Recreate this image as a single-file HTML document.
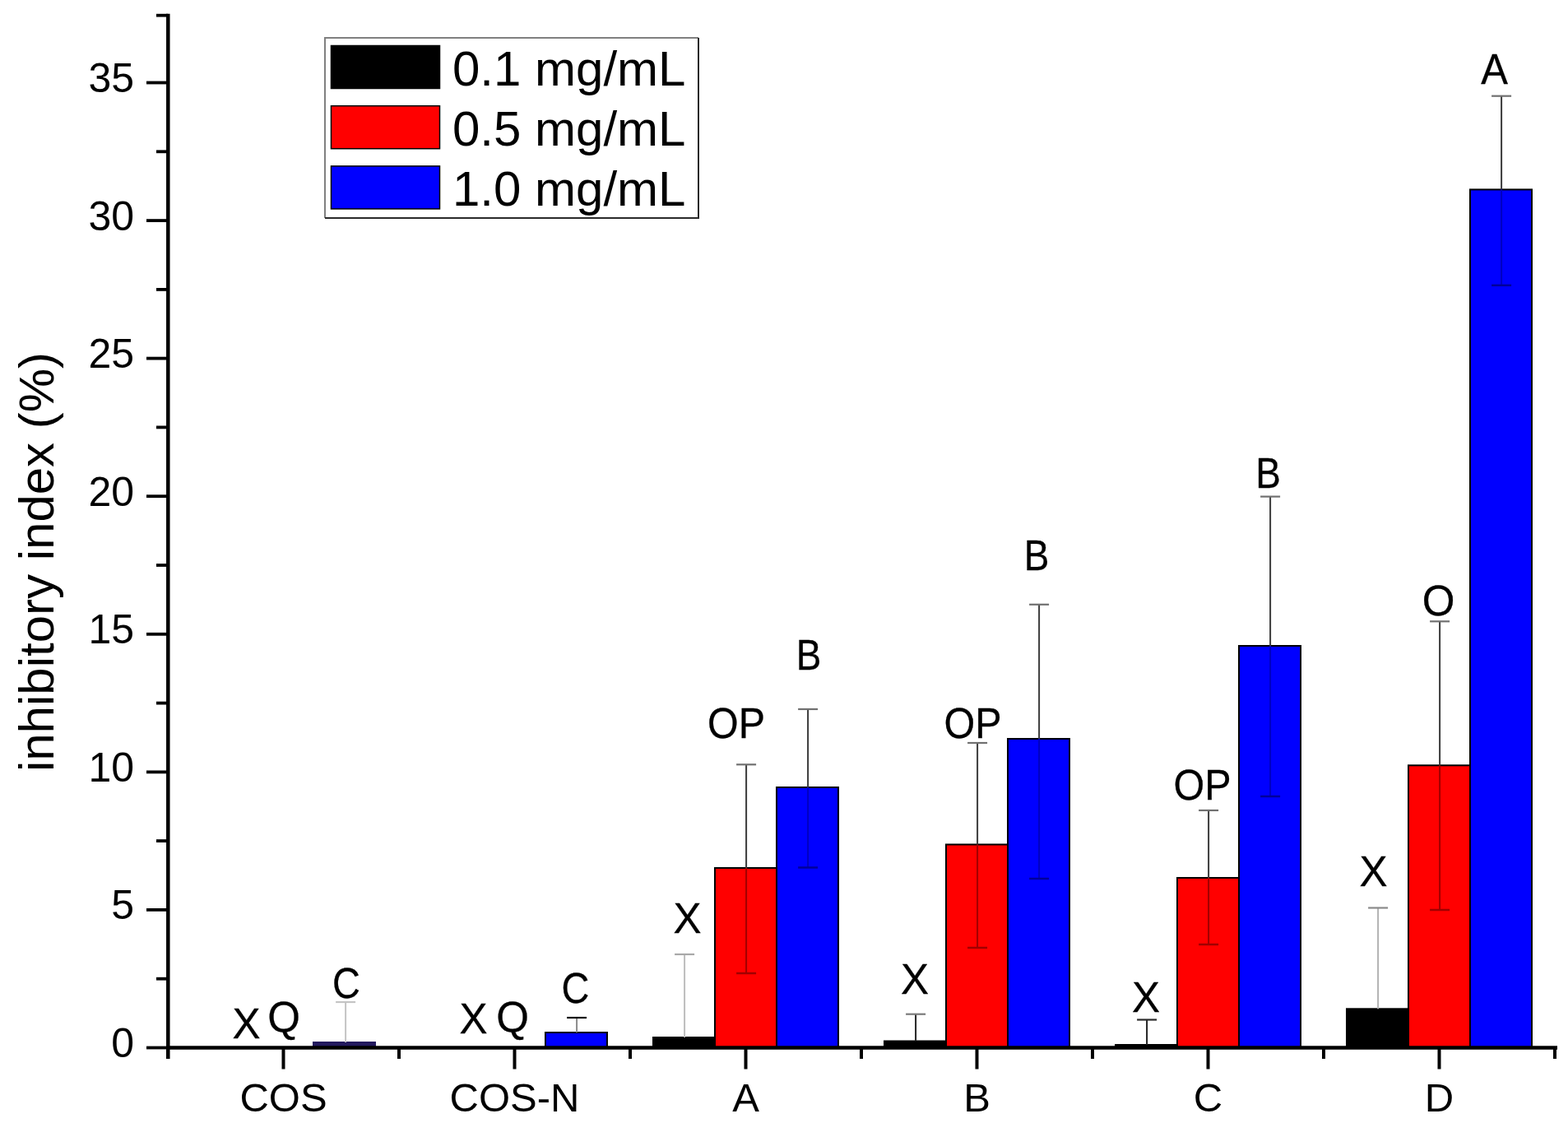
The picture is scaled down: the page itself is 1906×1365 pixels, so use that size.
<!DOCTYPE html>
<html><head><meta charset="utf-8"><title>inhibitory index chart</title>
<style>html,body{margin:0;padding:0;background:#fff;overflow:hidden;} svg{display:block;}</style>
</head><body>
<svg width="1906" height="1365" viewBox="0 0 1906 1365">
<rect width="1906" height="1365" fill="#fff"/>
<g id="bars">
<rect x="380.0" y="1266" width="77.0" height="8" fill="#231a5e"/>
<rect x="663.0" y="1255.0" width="75.0" height="18.5" fill="#0000ff" stroke="#000" stroke-width="2"/>
<rect x="794.0" y="1261.0" width="75.0" height="12.5" fill="#000000" stroke="#000" stroke-width="2"/>
<rect x="869.0" y="1055.0" width="75.0" height="218.5" fill="#ff0000" stroke="#000" stroke-width="2"/>
<rect x="944.0" y="957.0" width="75.0" height="316.5" fill="#0000ff" stroke="#000" stroke-width="2"/>
<rect x="1075.0" y="1265.5" width="75.0" height="8.0" fill="#000000" stroke="#000" stroke-width="2"/>
<rect x="1150.0" y="1026.5" width="75.0" height="247.0" fill="#ff0000" stroke="#000" stroke-width="2"/>
<rect x="1225.0" y="898.0" width="75.0" height="375.5" fill="#0000ff" stroke="#000" stroke-width="2"/>
<rect x="1356.0" y="1270.0" width="75.0" height="3.5" fill="#000000" stroke="#000" stroke-width="2"/>
<rect x="1431.0" y="1067.0" width="75.0" height="206.5" fill="#ff0000" stroke="#000" stroke-width="2"/>
<rect x="1506.0" y="785.0" width="75.0" height="488.5" fill="#0000ff" stroke="#000" stroke-width="2"/>
<rect x="1637.0" y="1226.3" width="75.0" height="47.2" fill="#000000" stroke="#000" stroke-width="2"/>
<rect x="1712.0" y="930.3" width="75.0" height="343.2" fill="#ff0000" stroke="#000" stroke-width="2"/>
<rect x="1787.0" y="230.4" width="75.0" height="1043.1" fill="#0000ff" stroke="#000" stroke-width="2"/>
</g>
<g id="errs" fill="none">
<line x1="420.1" y1="1218.0" x2="420.1" y2="1267.0" stroke="#c4c4c4" stroke-width="2"/>
<line x1="408.1" y1="1218.0" x2="432.1" y2="1218.0" stroke="#c4c4c4" stroke-width="2.2"/>
<line x1="701.1" y1="1237.0" x2="701.1" y2="1255.0" stroke="#8a8a8a" stroke-width="2"/>
<line x1="689.1" y1="1237.0" x2="713.1" y2="1237.0" stroke="#111111" stroke-width="2.2"/>
<line x1="832.1" y1="1160.0" x2="832.1" y2="1261.0" stroke="#bdbdbd" stroke-width="2"/>
<line x1="820.1" y1="1160.0" x2="844.1" y2="1160.0" stroke="#a8a8a8" stroke-width="2.2"/>
<line x1="907.1" y1="929.3" x2="907.1" y2="1055.0" stroke="#3a3a3a" stroke-width="2"/>
<line x1="895.1" y1="929.3" x2="919.1" y2="929.3" stroke="#707070" stroke-width="2.2"/>
<line x1="907.1" y1="1055.0" x2="907.1" y2="1183.0" stroke="#a00000" stroke-width="2"/>
<line x1="895.1" y1="1183.0" x2="919.1" y2="1183.0" stroke="#a00000" stroke-width="2.5"/>
<line x1="982.1" y1="862.0" x2="982.1" y2="957.0" stroke="#3a3a3a" stroke-width="2"/>
<line x1="970.1" y1="862.0" x2="994.1" y2="862.0" stroke="#707070" stroke-width="2.2"/>
<line x1="982.1" y1="957.0" x2="982.1" y2="1054.5" stroke="#0000c0" stroke-width="2"/>
<line x1="970.1" y1="1054.5" x2="994.1" y2="1054.5" stroke="#00009a" stroke-width="2.5"/>
<line x1="1113.1" y1="1232.7" x2="1113.1" y2="1265.5" stroke="#222222" stroke-width="2"/>
<line x1="1101.1" y1="1232.7" x2="1125.1" y2="1232.7" stroke="#7a7a7a" stroke-width="2.2"/>
<line x1="1188.1" y1="903.0" x2="1188.1" y2="1026.5" stroke="#3a3a3a" stroke-width="2"/>
<line x1="1176.1" y1="903.0" x2="1200.1" y2="903.0" stroke="#707070" stroke-width="2.2"/>
<line x1="1188.1" y1="1026.5" x2="1188.1" y2="1152.0" stroke="#a00000" stroke-width="2"/>
<line x1="1176.1" y1="1152.0" x2="1200.1" y2="1152.0" stroke="#a00000" stroke-width="2.5"/>
<line x1="1263.1" y1="734.8" x2="1263.1" y2="898.0" stroke="#3a3a3a" stroke-width="2"/>
<line x1="1251.1" y1="734.8" x2="1275.1" y2="734.8" stroke="#707070" stroke-width="2.2"/>
<line x1="1263.1" y1="898.0" x2="1263.1" y2="1068.0" stroke="#0000c0" stroke-width="2"/>
<line x1="1251.1" y1="1068.0" x2="1275.1" y2="1068.0" stroke="#00009a" stroke-width="2.5"/>
<line x1="1394.1" y1="1239.5" x2="1394.1" y2="1270.0" stroke="#222222" stroke-width="2"/>
<line x1="1382.1" y1="1239.5" x2="1406.1" y2="1239.5" stroke="#2a2a2a" stroke-width="2.2"/>
<line x1="1469.1" y1="985.0" x2="1469.1" y2="1067.0" stroke="#3a3a3a" stroke-width="2"/>
<line x1="1457.1" y1="985.0" x2="1481.1" y2="985.0" stroke="#707070" stroke-width="2.2"/>
<line x1="1469.1" y1="1067.0" x2="1469.1" y2="1148.0" stroke="#a00000" stroke-width="2"/>
<line x1="1457.1" y1="1148.0" x2="1481.1" y2="1148.0" stroke="#a00000" stroke-width="2.5"/>
<line x1="1544.1" y1="603.6" x2="1544.1" y2="785.0" stroke="#3a3a3a" stroke-width="2"/>
<line x1="1532.1" y1="603.6" x2="1556.1" y2="603.6" stroke="#707070" stroke-width="2.2"/>
<line x1="1544.1" y1="785.0" x2="1544.1" y2="968.0" stroke="#0000c0" stroke-width="2"/>
<line x1="1532.1" y1="968.0" x2="1556.1" y2="968.0" stroke="#00009a" stroke-width="2.5"/>
<line x1="1675.1" y1="1103.5" x2="1675.1" y2="1226.3" stroke="#b3b3b3" stroke-width="2"/>
<line x1="1663.1" y1="1103.5" x2="1687.1" y2="1103.5" stroke="#8a8a8a" stroke-width="2.2"/>
<line x1="1750.1" y1="755.3" x2="1750.1" y2="930.3" stroke="#3a3a3a" stroke-width="2"/>
<line x1="1738.1" y1="755.3" x2="1762.1" y2="755.3" stroke="#707070" stroke-width="2.2"/>
<line x1="1750.1" y1="930.3" x2="1750.1" y2="1106.0" stroke="#a00000" stroke-width="2"/>
<line x1="1738.1" y1="1106.0" x2="1762.1" y2="1106.0" stroke="#a00000" stroke-width="2.5"/>
<line x1="1825.1" y1="116.7" x2="1825.1" y2="230.4" stroke="#3a3a3a" stroke-width="2"/>
<line x1="1813.1" y1="116.7" x2="1837.1" y2="116.7" stroke="#707070" stroke-width="2.2"/>
<line x1="1825.1" y1="230.4" x2="1825.1" y2="346.8" stroke="#0000c0" stroke-width="2"/>
<line x1="1813.1" y1="346.8" x2="1837.1" y2="346.8" stroke="#00009a" stroke-width="2.5"/>
</g>
<g id="axes" stroke="#000" fill="none">
<line x1="204.3" y1="16.8" x2="204.3" y2="1287" stroke-width="4.5"/>
<line x1="202" y1="1273.5" x2="1893" y2="1273.5" stroke-width="4.5"/>
<line x1="178" y1="1273.5" x2="204" y2="1273.5" stroke-width="3.8"/>
<line x1="190" y1="1189.7" x2="204" y2="1189.7" stroke-width="3.8"/>
<line x1="178" y1="1105.9" x2="204" y2="1105.9" stroke-width="3.8"/>
<line x1="190" y1="1022.1" x2="204" y2="1022.1" stroke-width="3.8"/>
<line x1="178" y1="938.4" x2="204" y2="938.4" stroke-width="3.8"/>
<line x1="190" y1="854.6" x2="204" y2="854.6" stroke-width="3.8"/>
<line x1="178" y1="770.8" x2="204" y2="770.8" stroke-width="3.8"/>
<line x1="190" y1="687.0" x2="204" y2="687.0" stroke-width="3.8"/>
<line x1="178" y1="603.2" x2="204" y2="603.2" stroke-width="3.8"/>
<line x1="190" y1="519.4" x2="204" y2="519.4" stroke-width="3.8"/>
<line x1="178" y1="435.6" x2="204" y2="435.6" stroke-width="3.8"/>
<line x1="190" y1="351.9" x2="204" y2="351.9" stroke-width="3.8"/>
<line x1="178" y1="268.1" x2="204" y2="268.1" stroke-width="3.8"/>
<line x1="190" y1="184.3" x2="204" y2="184.3" stroke-width="3.8"/>
<line x1="178" y1="100.5" x2="204" y2="100.5" stroke-width="3.8"/>
<line x1="190" y1="18.7" x2="204" y2="18.7" stroke-width="3.8"/>
<line x1="204.0" y1="1273.5" x2="204.0" y2="1287" stroke-width="4"/>
<line x1="485.0" y1="1273.5" x2="485.0" y2="1287" stroke-width="4"/>
<line x1="766.0" y1="1273.5" x2="766.0" y2="1287" stroke-width="4"/>
<line x1="1047.0" y1="1273.5" x2="1047.0" y2="1287" stroke-width="4"/>
<line x1="1328.0" y1="1273.5" x2="1328.0" y2="1287" stroke-width="4"/>
<line x1="1609.0" y1="1273.5" x2="1609.0" y2="1287" stroke-width="4"/>
<line x1="1890.0" y1="1273.5" x2="1890.0" y2="1287" stroke-width="4"/>
<line x1="344.5" y1="1273.5" x2="344.5" y2="1299.5" stroke-width="4"/>
<line x1="625.5" y1="1273.5" x2="625.5" y2="1299.5" stroke-width="4"/>
<line x1="906.5" y1="1273.5" x2="906.5" y2="1299.5" stroke-width="4"/>
<line x1="1187.5" y1="1273.5" x2="1187.5" y2="1299.5" stroke-width="4"/>
<line x1="1468.5" y1="1273.5" x2="1468.5" y2="1299.5" stroke-width="4"/>
<line x1="1749.5" y1="1273.5" x2="1749.5" y2="1299.5" stroke-width="4"/>
</g>
<g font-family="'Liberation Sans', Arial, sans-serif" font-size="50" fill="#000" text-anchor="end">
<text x="163" y="1285.0">0</text>
<text x="163" y="1117.4">5</text>
<text x="163" y="949.9">10</text>
<text x="163" y="782.3">15</text>
<text x="163" y="614.7">20</text>
<text x="163" y="447.1">25</text>
<text x="163" y="279.6">30</text>
<text x="163" y="112.0">35</text>
</g>
<g font-family="'Liberation Sans', Arial, sans-serif" font-size="49" fill="#000" text-anchor="middle">
<text x="344.5" y="1350.5">COS</text>
<text x="625.5" y="1350.5">COS-N</text>
<text x="906.5" y="1350.5">A</text>
<text x="1187.5" y="1350.5">B</text>
<text x="1468.5" y="1350.5">C</text>
<text x="1749.5" y="1350.5">D</text>
</g>
<text font-family="'Liberation Sans', Arial, sans-serif" font-size="60" fill="#000" text-anchor="middle" transform="translate(65,683) rotate(-90)">inhibitory index (%)</text>
<g font-family="'Liberation Sans', Arial, sans-serif" font-size="51" fill="#000" text-anchor="middle" stroke="#000" stroke-width="0.3">
<text x="299.5" y="1261.8">X</text>
<text x="345.0" y="1254.3">Q</text>
<text transform="translate(421.0,1212.8) scale(0.92,1)">C</text>
<text x="575.5" y="1256.3">X</text>
<text x="623.0" y="1254.3">Q</text>
<text transform="translate(699.5,1219.3) scale(0.92,1)">C</text>
<text x="835.5" y="1134.3">X</text>
<text transform="translate(895.0,897.3) scale(0.95,1)">OP</text>
<text transform="translate(983.0,814.3) scale(0.9,1)">B</text>
<text x="1112.0" y="1208.3">X</text>
<text transform="translate(1182.5,897.3) scale(0.95,1)">OP</text>
<text transform="translate(1260.0,693.3) scale(0.9,1)">B</text>
<text x="1393.0" y="1230.3">X</text>
<text transform="translate(1461.5,972.3) scale(0.95,1)">OP</text>
<text transform="translate(1541.5,593.3) scale(0.9,1)">B</text>
<text x="1669.5" y="1077.3">X</text>
<text x="1748.5" y="748.3">O</text>
<text transform="translate(1816.5,102.3) scale(0.96,1)">A</text>
</g>
<g id="legend">
<rect x="395" y="46" width="454" height="219" fill="#fff"/>
<path d="M395,265 V46 H849" fill="none" stroke="#808080" stroke-width="2"/>
<path d="M395,265 H849 V46" fill="none" stroke="#2a2a2a" stroke-width="2"/>
<rect x="402.5" y="55.5" width="132" height="52" fill="#000000" stroke="#000" stroke-width="1.5"/>
<text x="550" y="103.5" font-family="'Liberation Sans', Arial, sans-serif" font-size="60" fill="#000">0.1 mg/mL</text>
<rect x="402.5" y="128.7" width="132" height="52" fill="#ff0000" stroke="#000" stroke-width="1.5"/>
<text x="550" y="176.7" font-family="'Liberation Sans', Arial, sans-serif" font-size="60" fill="#000">0.5 mg/mL</text>
<rect x="402.5" y="201.9" width="132" height="52" fill="#0000ff" stroke="#000" stroke-width="1.5"/>
<text x="550" y="249.9" font-family="'Liberation Sans', Arial, sans-serif" font-size="60" fill="#000">1.0 mg/mL</text>
</g>
</svg>
</body></html>
